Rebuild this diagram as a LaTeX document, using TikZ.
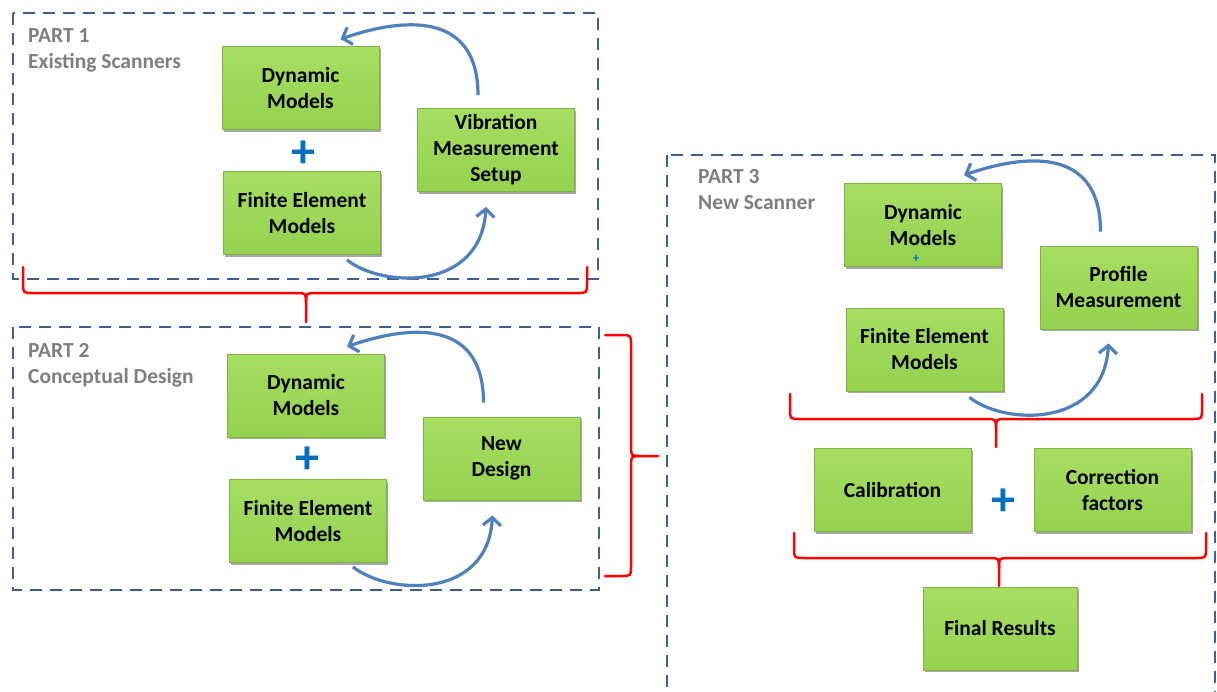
\documentclass[tikz,border=0pt]{standalone}
\usepackage{fontspec}
\setmainfont{Carlito}
\usetikzlibrary{arrows.meta,shadows}
\definecolor{boxtop}{RGB}{166,222,98}
\definecolor{boxbot}{RGB}{148,210,78}
\definecolor{boxline}{RGB}{128,180,66}
\definecolor{partblue}{RGB}{62,96,142}
\definecolor{arrowblue}{RGB}{79,129,189}
\definecolor{plusblue}{RGB}{0,112,192}
\definecolor{titlegray}{RGB}{127,127,127}
\begin{document}
\begin{tikzpicture}[x=1pt,y=-1pt,
  gbox/.style={draw=boxline, line width=0.8pt, top color=boxtop, bottom color=boxbot,
    drop shadow={shadow xshift=1.5pt, shadow yshift=-2pt, opacity=0.35, fill=black},
    minimum width=157pt, minimum height=83pt, inner sep=0pt, align=center,
    font=\fontsize{21.5}{26}\selectfont\bfseries, text=black},
  ttl/.style={anchor=base west, text=titlegray, font=\fontsize{21.5}{26}\selectfont\bfseries, inner sep=0pt},
  partbox/.style={draw=partblue, line width=2.3pt, dash pattern=on 12pt off 8pt},
  flow/.style={draw=arrowblue, line width=3.2pt, -{Straight Barb[length=8pt,width=18pt]}},
  brc/.style={draw=red, line width=2.5pt, line join=round, line cap=round},
  plussign/.style={text=plusblue, font=\fontsize{48}{48}\selectfont\bfseries, inner sep=0pt}]
\clip (0,0) rectangle (1217,691);
\fill[white] (0,0) rectangle (1217,691);

% ---------- PART 1 ----------
\draw[partbox] (13,13) rectangle (598,279);
\node[ttl] (t1a) at (28,42) {PART 1};
\node[ttl] (t1b) at (28,68) {Existing Scanners};
\node[gbox] (d1) at (300.5,88) {Dynamic\\Models};
\node[gbox] (f1) at (302,213) {Finite Element\\Models};
\node[gbox] (v1) at (496,150) {Vibration\\Measurement\\Setup};
\node[plussign] (pl1) at (303,154) {+};
\draw[flow] ([shift={(-18,-13)}]v1.north) .. controls +(0,-80) and +(70,-24) .. ([shift={(40,-7)}]d1.north);
\draw[flow] ([shift={(45,5)}]f1.south) .. controls +(35,28) and +(-5,85) .. ([shift={(-10,15)}]v1.south);

% brace under part 1
\draw[brc] (23,267) -- (23,283) .. controls (23,293) .. (33,293) -- (296,293) .. controls (306,293) .. (306,303) -- (306,322);
\draw[brc] (587,267) -- (587,283) .. controls (587,293) .. (577,293) -- (316,293) .. controls (306,293) .. (306,303);

% ---------- PART 2 ----------
\draw[partbox] (13,327) rectangle (599,590);
\node[ttl] (t2a) at (28,357) {PART 2};
\node[ttl] (t2b) at (28,383) {Conceptual Design};
\node[gbox] (d2) at (306,395.5) {Dynamic\\Models};
\node[gbox] (f2) at (308,521) {Finite Element\\Models};
\node[gbox] (n2) at (501.5,458.5) {New\\Design};
\node[plussign] (pl2) at (307,460) {+};
\draw[flow] ([shift={(-18,-14)}]n2.north) .. controls +(0,-80) and +(70,-24) .. ([shift={(41,-7)}]d2.north);
\draw[flow] ([shift={(45,4)}]f2.south) .. controls +(35,28) and +(-5,85) .. ([shift={(-9,15)}]n2.south);

% brace right of part 2
\draw[brc] (605,335) -- (621,335) .. controls (631,335) .. (631,345) -- (631,446) .. controls (631,456) .. (641,456) -- (658,456);
\draw[brc] (605,576) -- (621,576) .. controls (631,576) .. (631,566) -- (631,466) .. controls (631,456) .. (641,456);

% ---------- PART 3 ----------
\draw[partbox] (667,155) rectangle (1215,705);
\node[ttl] (t3a) at (698,183) {PART 3};
\node[ttl] (t3b) at (698,209) {New Scanner};
\node[gbox] (d3) at (923,225) {Dynamic\\Models};
\node[gbox] (p3) at (1118.5,287.5) {Profile\\Measurement};
\node[gbox] (f3) at (924.5,349.5) {Finite Element\\Models};
\node[plussign, font=\fontsize{13}{13}\selectfont\bfseries] (pl3s) at (916,259) {+};
\draw[flow] ([shift={(-18,-14)}]p3.north) .. controls +(0,-80) and +(70,-24) .. ([shift={(41,-8)}]d3.north);
\draw[flow] ([shift={(45,6)}]f3.south) .. controls +(35,28) and +(-5,85) .. ([shift={(-10,14)}]p3.south);

\draw[brc] (790,394) -- (790,409) .. controls (790,419) .. (800,419) -- (986,419) .. controls (996,419) .. (996,429) -- (996,447);
\draw[brc] (1202,394) -- (1202,409) .. controls (1202,419) .. (1192,419) -- (1006,419) .. controls (996,419) .. (996,429);

\node[gbox] (cal) at (892.5,490) {Calibration};
\node[gbox] (cor) at (1112.5,490) {Correction\\factors};
\node[plussign] (pl3) at (1003,502) {+};

\draw[brc] (794,533) -- (794,548) .. controls (794,558) .. (804,558) -- (989,558) .. controls (999,558) .. (999,568) -- (999,586);
\draw[brc] (1206,533) -- (1206,548) .. controls (1206,558) .. (1196,558) -- (1009,558) .. controls (999,558) .. (999,568);

\node[gbox, minimum width=154pt] (fin) at (1000,628.5) {Final Results};
\end{tikzpicture}
\end{document}
